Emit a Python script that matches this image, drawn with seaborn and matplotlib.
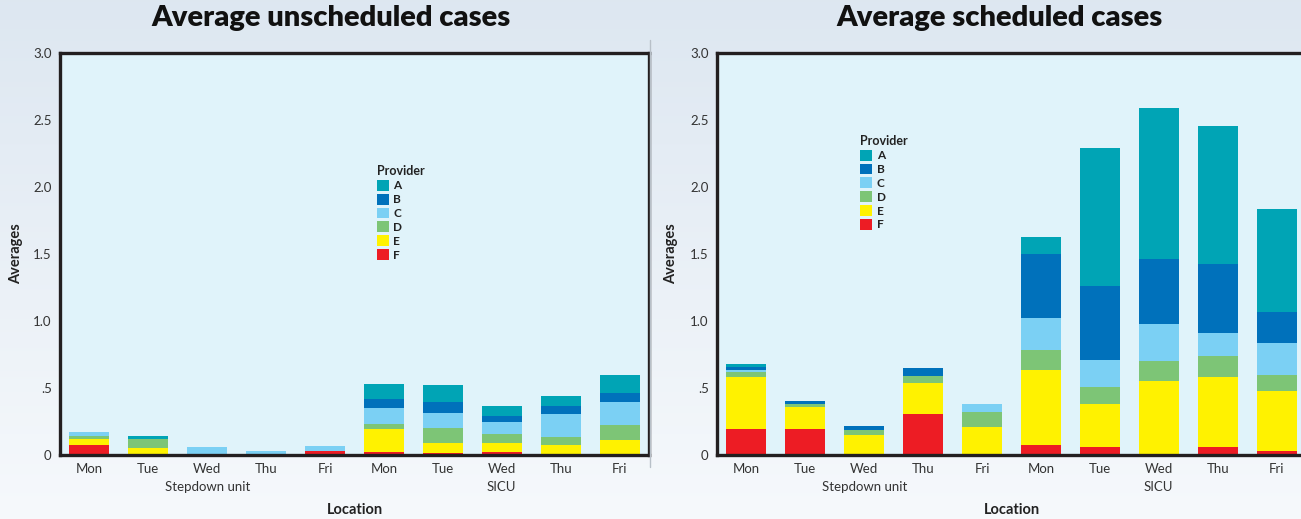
import numpy as np
import pandas as pd
import matplotlib.pyplot as plt
from matplotlib.patches import Patch
from matplotlib.lines import Line2D
import seaborn as sns

# bars: Stepdown unit Mon..Fri, then SICU Mon..Fri
days = ['Mon', 'Tue', 'Wed', 'Thu', 'Fri']
locations = ['Stepdown unit', 'SICU']
providers = ['A', 'B', 'C', 'D', 'E', 'F']
provider_colors = ['#00a4b5', '#0071bb', '#7bd0f4', '#7dc576', '#fff200', '#ed1c24']
ytick_vals = [0, 0.5, 1.0, 1.5, 2.0, 2.5, 3.0]
ytick_labels = ['0', '.5', '1.0', '1.5', '2.0', '2.5', '3.0']

# average unscheduled cases
unsched_A = [0, 0.022, 0, 0, 0, 0.112, 0.126, 0.075, 0.074, 0.134]
unsched_B = [0, 0, 0, 0, 0, 0.067, 0.083, 0.045, 0.060, 0.067]
unsched_C = [0.030, 0, 0.060, 0.030, 0.037, 0.120, 0.113, 0.089, 0.172, 0.172]
unsched_D = [0.022, 0.067, 0, 0, 0, 0.037, 0.110, 0.067, 0.059, 0.112]
unsched_E = [0.045, 0.052, 0, 0, 0, 0.172, 0.075, 0.068, 0.075, 0.112]
unsched_F = [0.075, 0, 0, 0, 0.030, 0.022, 0.015, 0.022, 0, 0]

# average scheduled cases
sched_A = [0.022, 0, 0, 0, 0, 0.127, 1.030, 1.127, 1.030, 0.769]
sched_B = [0.025, 0.023, 0.029, 0.059, 0, 0.478, 0.552, 0.485, 0.515, 0.231]
sched_C = [0.014, 0, 0, 0, 0.060, 0.238, 0.202, 0.277, 0.171, 0.239]
sched_D = [0.036, 0.022, 0.038, 0.053, 0.112, 0.150, 0.126, 0.149, 0.157, 0.119]
sched_E = [0.390, 0.164, 0.149, 0.231, 0.209, 0.559, 0.321, 0.552, 0.522, 0.448]
sched_F = [0.194, 0.194, 0, 0.306, 0, 0.075, 0.060, 0, 0.060, 0.030]

slots = [loc + ' ' + d for loc in locations for d in days]


def to_long(series):
    rows = []
    for prov, vals in zip(providers, series):
        for s, v in zip(slots, vals):
            rows.append({'slot': s, 'provider': prov, 'value': v})
    return pd.DataFrame(rows)


df_unsched = to_long([unsched_A, unsched_B, unsched_C, unsched_D, unsched_E, unsched_F])
df_sched = to_long([sched_A, sched_B, sched_C, sched_D, sched_E, sched_F])

sns.set_style('white')
plt.rcParams['font.family'] = ['Lato', 'DejaVu Sans']

fig = plt.figure(figsize=(13.01, 5.19), dpi=100)

# background gradient
bg = fig.add_axes([0, 0, 1, 1], zorder=-10)
grad = np.linspace(0, 1, 256).reshape(-1, 1)
top = np.array([0.867, 0.906, 0.945])
bot = np.array([0.965, 0.976, 0.988])
img = top + (bot - top) * grad[:, :, None]
bg.imshow(img, aspect='auto', extent=[0, 1, 0, 1])
bg.set_axis_off()

ax1 = fig.add_axes([60 / 1301, 64 / 519, 589 / 1301, 402 / 519])
ax2 = fig.add_axes([717 / 1301, 64 / 519, 589 / 1301, 402 / 519])

# (axes, data, title, title x px, legend anchor, ylabel x in axes coords)
panels = [(ax1, df_unsched, 'Average unscheduled cases', 331, (0.528, 0.735), -0.062),
          (ax2, df_sched, 'Average scheduled cases', 999, (0.233, 0.810), -0.066)]

for ax, df, title, tx, leg_pos, ylab_x in panels:
    sns.histplot(data=df, x='slot', hue='provider', weights='value',
                 multiple='stack', hue_order=providers, palette=provider_colors,
                 discrete=True, shrink=0.68, linewidth=0, alpha=1,
                 legend=False, ax=ax)
    ax.set_facecolor('#e0f3fa')
    ax.set_xlim(-0.5, 9.5)
    ax.set_ylim(0, 3.0)
    for sp in ax.spines.values():
        sp.set_visible(True)
        sp.set_linewidth(2.4)
        sp.set_color('#231f20')
    ax.set_yticks(ytick_vals)
    ax.set_yticklabels(ytick_labels, fontsize=9.5, color='#333333')
    ax.set_xticks(range(10))
    ax.set_xticklabels(days * 2, fontsize=9.5, color='#333333')
    ax.set_xticks(np.arange(-0.5, 10, 1), minor=True)
    ax.tick_params(axis='x', which='major', length=0, pad=6)
    ax.tick_params(axis='x', which='minor', length=7, width=2.4, color='#231f20',
                   direction='out')
    ax.tick_params(axis='y', length=0, pad=6)
    ax.set_xlabel('')
    ax.set_ylabel('Averages', fontsize=10.5, fontweight='bold', color='#222222')
    ax.yaxis.set_label_coords(ylab_x, 0.5)

    trans = ax.get_xaxis_transform()
    ax.text(2, -0.08, locations[0], transform=trans, ha='center', va='center',
            fontsize=9.5, color='#333333')
    ax.text(7, -0.08, locations[1], transform=trans, ha='center', va='center',
            fontsize=9.5, color='#333333')
    ax.text(0.5, -0.138, 'Location', transform=ax.transAxes, ha='center',
            va='center', fontsize=10.5, fontweight='bold', color='#222222')

    fig.text(tx / 1301, 1 - 18 / 519, title, ha='center', va='center',
             fontsize=21, fontweight='heavy', color='#111111')

    handles = [Patch(facecolor=c, edgecolor='none', label=p)
               for p, c in zip(providers, provider_colors)]
    leg = ax.legend(handles=handles, title='Provider', loc='upper left',
                    bbox_to_anchor=leg_pos, frameon=False,
                    prop={'weight': 'bold', 'size': 8.5},
                    title_fontproperties={'weight': 'bold', 'size': 9},
                    handlelength=1.0, handleheight=1.05, labelspacing=0.2,
                    handletextpad=0.4, borderpad=0, alignment='left')
    for t in leg.get_texts():
        t.set_color('#222222')
    leg.get_title().set_color('#222222')

# faint separator between the two panels
fig.add_artist(Line2D([650 / 1301, 650 / 1301], [1 - 467 / 519, 1 - 40 / 519],
                      transform=fig.transFigure, color='#b8c0c8', lw=1))

fig.savefig('out.png', dpi=100)
